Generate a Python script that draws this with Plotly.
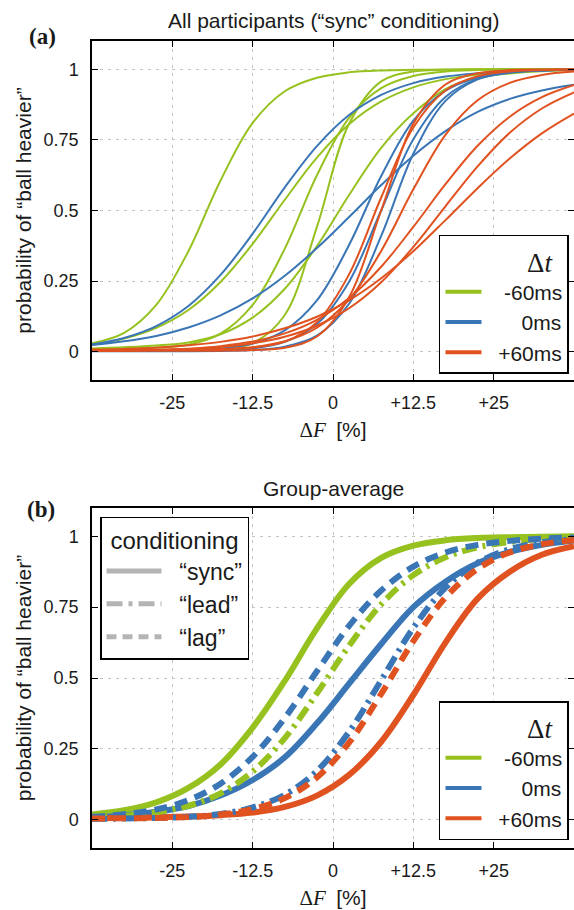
import plotly.graph_objects as go

# ---------------- data ----------------
DF = [-37.5, -32.5, -27.5, -22.5, -17.5, -12.5, -7.5, -2.5,
      2.5, 7.5, 12.5, 17.5, 22.5, 27.5, 32.5, 37.5]

X_TICKS = [-25, -12.5, 0, 12.5, 25]
X_TICK_TEXT = ["-25", "-12.5", "0", "+12.5", "+25"]
Y_TICKS = [0, 0.25, 0.5, 0.75, 1]
Y_TICK_TEXT = ["0", "0.25", "0.5", "0.75", "1"]

# panel (a): individual participants, "sync" conditioning
A_GREEN = [
    [0.030, 0.067, 0.166, 0.356, 0.606, 0.810, 0.922, 0.970, 0.989, 0.996, 0.998, 0.999, 1.0, 1.0, 1.0, 1.0],
    [0.025, 0.047, 0.085, 0.148, 0.247, 0.382, 0.538, 0.687, 0.805, 0.886, 0.936, 0.965, 0.981, 0.990, 0.995, 0.997],
    [0.010, 0.012, 0.015, 0.025, 0.064, 0.166, 0.365, 0.625, 0.828, 0.933, 0.976, 0.992, 0.997, 0.999, 1.0, 1.0],
    [0.005, 0.005, 0.005, 0.006, 0.010, 0.030, 0.130, 0.442, 0.807, 0.957, 0.992, 0.998, 1.0, 1.0, 1.0, 1.0],
    [0.012, 0.016, 0.022, 0.033, 0.062, 0.121, 0.223, 0.374, 0.555, 0.722, 0.844, 0.930, 0.970, 0.985, 0.993, 0.997],
]
A_BLUE = [
    [0.026, 0.049, 0.091, 0.162, 0.272, 0.418, 0.582, 0.728, 0.838, 0.909, 0.951, 0.974, 0.986, 0.993, 0.996, 0.998],
    [0.024, 0.037, 0.056, 0.086, 0.129, 0.189, 0.269, 0.367, 0.477, 0.590, 0.694, 0.781, 0.849, 0.895, 0.925, 0.945],
    [0.004, 0.004, 0.005, 0.007, 0.012, 0.029, 0.076, 0.182, 0.378, 0.622, 0.818, 0.924, 0.971, 0.989, 0.996, 0.998],
    [0.003, 0.003, 0.003, 0.004, 0.006, 0.012, 0.035, 0.098, 0.248, 0.500, 0.752, 0.902, 0.966, 0.988, 0.996, 0.999],
    [0.002, 0.002, 0.002, 0.002, 0.003, 0.006, 0.018, 0.057, 0.170, 0.410, 0.701, 0.888, 0.964, 0.989, 0.997, 0.999],
]
A_RED = [
    [0.006, 0.006, 0.006, 0.007, 0.009, 0.015, 0.036, 0.105, 0.274, 0.546, 0.794, 0.925, 0.975, 0.992, 0.997, 0.999],
    [0.004, 0.004, 0.004, 0.004, 0.004, 0.006, 0.014, 0.054, 0.193, 0.500, 0.807, 0.946, 0.986, 0.997, 0.999, 1.0],
    [0.005, 0.005, 0.006, 0.007, 0.010, 0.016, 0.037, 0.085, 0.185, 0.357, 0.575, 0.768, 0.890, 0.952, 0.980, 0.992],
    [0.004, 0.005, 0.007, 0.011, 0.020, 0.036, 0.065, 0.113, 0.190, 0.301, 0.442, 0.593, 0.729, 0.832, 0.901, 0.944],
    [0.003, 0.004, 0.006, 0.010, 0.017, 0.030, 0.053, 0.092, 0.154, 0.246, 0.371, 0.515, 0.656, 0.775, 0.861, 0.918],
    [0.008, 0.010, 0.014, 0.023, 0.035, 0.054, 0.083, 0.124, 0.182, 0.260, 0.356, 0.466, 0.579, 0.684, 0.773, 0.843],
]

# panel (b): group averages
B_GREEN_SYNC = [0.018, 0.033, 0.061, 0.112, 0.195, 0.325, 0.490, 0.675, 0.832, 0.924, 0.967, 0.986, 0.994, 0.997, 0.999, 1.0]
B_BLUE_SYNC = [0.008, 0.015, 0.028, 0.048, 0.085, 0.140, 0.220, 0.340, 0.480, 0.620, 0.750, 0.840, 0.905, 0.945, 0.970, 0.985]
B_RED_SYNC = [0.005, 0.006, 0.008, 0.011, 0.016, 0.025, 0.045, 0.085, 0.158, 0.275, 0.440, 0.625, 0.780, 0.875, 0.935, 0.965]
B_GREEN_LEAD = [0.007, 0.013, 0.026, 0.049, 0.093, 0.170, 0.288, 0.446, 0.614, 0.760, 0.863, 0.926, 0.961, 0.980, 0.990, 0.995]
B_BLUE_LEAD = [0.003, 0.004, 0.006, 0.010, 0.020, 0.043, 0.088, 0.172, 0.310, 0.492, 0.677, 0.819, 0.907, 0.955, 0.979, 0.990]
B_BLUE_LAG = [0.010, 0.019, 0.036, 0.069, 0.127, 0.222, 0.359, 0.524, 0.684, 0.809, 0.893, 0.943, 0.970, 0.984, 0.992, 0.996]
B_RED_LAG = [0.004, 0.005, 0.006, 0.009, 0.018, 0.037, 0.076, 0.149, 0.272, 0.444, 0.630, 0.784, 0.885, 0.943, 0.972, 0.987]

NB = "\u00a0"
DT_LABELS = [NB * 3 + "-60ms", NB * 6 + "0ms", NB * 2 + "+60ms"]
COND_LABELS = [NB * 2 + "\u201csync\u201d", NB * 2 + "\u201clead\u201d", NB * 2 + "\u201clag\u201d"]

# ---------------- style ----------------
GREEN = "#96c11f"
BLUE = "#3a76b6"
RED = "#e0521f"
GRAY = "#b4b4b4"
SANS = "Liberation Sans, Arial, sans-serif"
SERIF = "Liberation Serif, DejaVu Serif, serif"
INK = "#1a1a1a"

fig = go.Figure()

# panel (a) curves
for group, col in ((A_GREEN, GREEN), (A_BLUE, BLUE), (A_RED, RED)):
    for ys in group:
        fig.add_trace(go.Scatter(
            x=DF, y=ys, mode="lines", xaxis="x", yaxis="y",
            line=dict(color=col, width=2, shape="spline", smoothing=1.0),
            showlegend=False, hoverinfo="skip"))

# panel (a) legend entries
for lab, col in zip(DT_LABELS, (GREEN, BLUE, RED)):
    fig.add_trace(go.Scatter(
        x=[None], y=[None], mode="lines", xaxis="x", yaxis="y",
        line=dict(color=col, width=4), name=lab, legend="legend"))

# panel (b) curves: sync, lead, lag
DASHDOT = "15px,6px,3px,6px"
DASHED = "13px,8px"
B_CURVES = [
    (B_GREEN_SYNC, GREEN, "solid"),
    (B_BLUE_SYNC, BLUE, "solid"),
    (B_RED_SYNC, RED, "solid"),
    (B_GREEN_LEAD, GREEN, DASHDOT),
    (B_BLUE_LEAD, BLUE, DASHDOT),
    (B_BLUE_LAG, BLUE, DASHED),
    (B_RED_LAG, RED, DASHED),
]
for ys, col, dash in B_CURVES:
    fig.add_trace(go.Scatter(
        x=DF, y=ys, mode="lines", xaxis="x2", yaxis="y2",
        line=dict(color=col, width=6, dash=dash, shape="spline", smoothing=1.0),
        showlegend=False, hoverinfo="skip"))

# panel (b) legends
for lab, col in zip(DT_LABELS, (GREEN, BLUE, RED)):
    fig.add_trace(go.Scatter(
        x=[None], y=[None], mode="lines", xaxis="x2", yaxis="y2",
        line=dict(color=col, width=4), name=lab, legend="legend3"))
for lab, dash in zip(COND_LABELS, ("solid", "16px,6px,4px,6px", "10px,6px")):
    fig.add_trace(go.Scatter(
        x=[None], y=[None], mode="lines", xaxis="x2", yaxis="y2",
        line=dict(color=GRAY, width=5, dash=dash), name=lab, legend="legend2"))

axis_common = dict(
    showline=True, linecolor="black", linewidth=1.5,
    ticks="inside", ticklen=6, tickcolor="black", tickwidth=1,
    showgrid=True, gridcolor="#c4c4c4", gridwidth=1, griddash="3px,5px",
    zeroline=False, tickfont=dict(family=SANS, size=18, color=INK),
)
xcommon = dict(axis_common, range=[-37.5, 37.5], tickvals=X_TICKS, mirror="ticks",
               ticktext=X_TICK_TEXT, ticklabelstandoff=6)
ycommon = dict(axis_common, range=[-0.1, 1.1], tickvals=Y_TICKS, mirror=False,
               ticktext=Y_TICK_TEXT, ticklabelstandoff=8)
# right-hand tick marks only (the right spine lies at the cropped edge)
yright = dict(range=[-0.1, 1.1], tickvals=Y_TICKS, side="right",
              ticks="inside", ticklen=6, tickcolor="black", tickwidth=1,
              showticklabels=False, showline=False, showgrid=False, zeroline=False)

xtitle = dict(text="<span style='font-family:Liberation Serif'>\u0394<i>F</i></span>\u2002[%]",
              font=dict(family=SANS, size=21, color=INK), standoff=10)
ytitle = dict(text="probability of \u201cball heavier\u201d",
              font=dict(family=SANS, size=21, color=INK), standoff=6)

legend_dt = dict(
    bgcolor="white", bordercolor="black", borderwidth=1.5,
    font=dict(family=SANS, size=21, color=INK),
    title=dict(text="\u0394<i>t</i>" + NB * 2, side="top right",
               font=dict(family=SERIF, size=27, color=INK)),
    xanchor="right", yanchor="bottom", itemwidth=36,
    tracegroupgap=0,
)

fig.update_layout(
    width=574, height=910,
    margin=dict(l=92, r=0, t=41, b=62),
    paper_bgcolor="white", plot_bgcolor="white",
    xaxis=dict(xcommon, domain=[0, 1], anchor="y", title=xtitle),
    yaxis=dict(ycommon, domain=[0.5799, 1], anchor="x", title=ytitle),
    xaxis2=dict(xcommon, domain=[0, 1], anchor="y2", title=xtitle),
    yaxis2=dict(ycommon, domain=[0, 0.4213], anchor="x2", title=ytitle),
    yaxis3=dict(yright, overlaying="y", anchor="x"),
    yaxis4=dict(yright, overlaying="y2", anchor="x2"),
    legend=dict(legend_dt, x=0.9896, y=0.5874),
    legend3=dict(legend_dt, x=0.9896, y=0.0099),
    legend2=dict(
        bgcolor="white", bordercolor="black", borderwidth=1.5,
        font=dict(family=SANS, size=23, color=INK),
        title=dict(text="conditioning", side="top center",
                   font=dict(family=SANS, size=24, color=INK)),
        xanchor="left", yanchor="top", x=0.0166, y=0.4105, itemwidth=55,
    ),
    annotations=[
        dict(text="All participants (\u201csync\u201d conditioning)", xref="paper", yref="paper",
             x=0.5, y=1.026, showarrow=False, xanchor="center", yanchor="middle",
             font=dict(family=SANS, size=21, color=INK)),
        dict(text="Group-average", xref="paper", yref="paper",
             x=0.5, y=0.4449, showarrow=False, xanchor="center", yanchor="middle",
             font=dict(family=SANS, size=21, color=INK)),
        dict(text="<b>(a)</b>", xref="paper", yref="paper", x=-0.1037, y=1.006,
             showarrow=False, xanchor="center", yanchor="middle",
             font=dict(family=SERIF, size=23, color=INK)),
        dict(text="<b>(b)</b>", xref="paper", yref="paper", x=-0.1058, y=0.42,
             showarrow=False, xanchor="center", yanchor="middle",
             font=dict(family=SERIF, size=23, color=INK)),
    ],
)

# dummy traces so the right-hand tick axes are drawn
fig.add_trace(go.Scatter(x=[None], y=[None], xaxis="x", yaxis="y3", showlegend=False, hoverinfo="skip"))
fig.add_trace(go.Scatter(x=[None], y=[None], xaxis="x2", yaxis="y4", showlegend=False, hoverinfo="skip"))

fig.write_html("out.html")
